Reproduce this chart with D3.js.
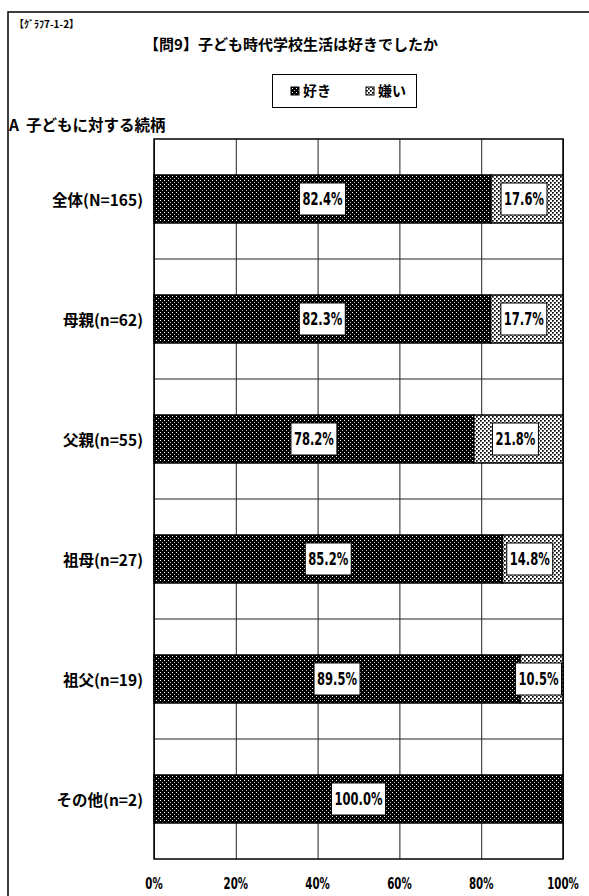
<!DOCTYPE html>
<html>
<head>
<meta charset="utf-8">
<script src="https://cdn.jsdelivr.net/npm/d3@7"></script>
<style>
  html, body { margin: 0; padding: 0; background: #fff; }
  svg { display: block; }
  .jp { font-family: "Noto Sans CJK JP", "Noto Sans", sans-serif; font-weight: 700; fill: #000; }
  .num { font-family: "DejaVu Sans", "Liberation Sans", sans-serif; font-weight: 700; fill: #000; }
</style>
</head>
<body>
<script>
// Question 9: did you like school life as a child? (by relationship to child)
const categories = ["全体(N=165)", "母親(n=62)", "父親(n=55)", "祖母(n=27)", "祖父(n=19)", "その他(n=2)"];
const seriesNames = ["好き", "嫌い"];
const likeValues = [82.4, 82.3, 78.2, 85.2, 89.5, 100.0];
const dislikeValues = [17.6, 17.7, 21.8, 14.8, 10.5, 0];
const tickValues = [0, 20, 40, 60, 80, 100];

const W = 589, H = 896;
const plot = { left: 154, right: 563, top: 139, bottom: 859 };
const narrow = 0.64; // horizontal squeeze for the condensed numeric lettering

const svg = d3.select("body").append("svg").attr("width", W).attr("height", H);

// fill patterns: dense dark dots for 好き, light dots for 嫌い
const defs = svg.append("defs");
const pDark = defs.append("pattern").attr("id", "patDark")
  .attr("patternUnits", "userSpaceOnUse").attr("width", 4).attr("height", 4);
pDark.append("rect").attr("width", 4).attr("height", 4).attr("fill", "#000");
pDark.append("rect").attr("x", 0).attr("y", 0).attr("width", 1).attr("height", 1).attr("fill", "#fff");
pDark.append("rect").attr("x", 2).attr("y", 2).attr("width", 1).attr("height", 1).attr("fill", "#bbb");

const pLight = defs.append("pattern").attr("id", "patLight")
  .attr("patternUnits", "userSpaceOnUse").attr("width", 4).attr("height", 4);
pLight.append("rect").attr("width", 4).attr("height", 4).attr("fill", "#fff");
pLight.append("rect").attr("x", 0).attr("y", 0).attr("width", 1.7).attr("height", 1.7).attr("fill", "#000");
pLight.append("rect").attr("x", 2).attr("y", 2).attr("width", 1.7).attr("height", 1.7).attr("fill", "#000");

const x = d3.scaleLinear().domain([0, 100]).range([plot.left, plot.right]);
const y = d3.scaleBand().domain(categories).range([plot.top, plot.bottom])
  .paddingInner(0.6).paddingOuter(0.3);

// outer frame
svg.append("path").attr("d", `M8,${H} V12 H${W}`)
  .attr("fill", "none").attr("stroke", "#000").attr("stroke-width", 1.5);

// header texts
svg.append("text").attr("class", "jp").attr("x", 14).attr("y", 28)
  .attr("font-size", 10).text("【ｸﾞﾗﾌ7-1-2】");
svg.append("text").attr("class", "jp").attr("x", 291).attr("y", 50)
  .attr("text-anchor", "middle").attr("font-size", 15)
  .text("【問9】子ども時代学校生活は好きでしたか");

// legend
const lg = svg.append("g");
lg.append("rect").attr("x", 272.5).attr("y", 74.5).attr("width", 144).attr("height", 33)
  .attr("fill", "#fff").attr("stroke", "#000").attr("stroke-width", 1);
const legendX = [291, 366];
seriesNames.forEach((s, i) => {
  lg.append("rect").attr("x", legendX[i]).attr("y", 87).attr("width", 8).attr("height", 8)
    .attr("fill", i === 0 ? "url(#patDark)" : "url(#patLight)")
    .attr("stroke", "#000").attr("stroke-width", 1);
  lg.append("text").attr("class", "jp").attr("x", legendX[i] + 12).attr("y", 96)
    .attr("font-size", 14).text(s);
});

svg.append("text").attr("class", "jp").attr("x", 9).attr("y", 131)
  .attr("font-size", 15.5).attr("xml:space", "preserve").text("A  子どもに対する続柄");

// plot background
svg.append("rect").attr("x", plot.left).attr("y", plot.top)
  .attr("width", plot.right - plot.left).attr("height", plot.bottom - plot.top)
  .attr("fill", "#fff");

// vertical gridlines
const grid = svg.append("g").attr("transform", `translate(0,${plot.bottom})`)
  .call(d3.axisBottom(x).tickValues(tickValues).tickSize(-(plot.bottom - plot.top)).tickFormat(""));
grid.select(".domain").remove();
grid.selectAll("line").attr("stroke", "#222").attr("stroke-width", 1);

// horizontal lines between categories
const gap = (y.step() - y.bandwidth()) / 2;
svg.append("g").selectAll("line").data(categories.slice(1)).join("line")
  .attr("x1", plot.left).attr("x2", plot.right)
  .attr("y1", d => y(d) - gap).attr("y2", d => y(d) - gap)
  .attr("stroke", "#222").attr("stroke-width", 1);

// plot border
svg.append("rect").attr("x", plot.left).attr("y", plot.top)
  .attr("width", plot.right - plot.left).attr("height", plot.bottom - plot.top)
  .attr("fill", "none").attr("stroke", "#000").attr("stroke-width", 1.5);

// stacked bars
const rows = categories.map((c, i) => ({ c, like: likeValues[i], dislike: dislikeValues[i] }));
const bars = svg.append("g");
rows.forEach(r => {
  bars.append("rect").attr("x", x(0)).attr("y", y(r.c))
    .attr("width", x(r.like) - x(0)).attr("height", y.bandwidth())
    .attr("fill", "url(#patDark)").attr("stroke", "#000").attr("stroke-width", 1.5);
  if (r.dislike > 0) {
    bars.append("rect").attr("x", x(r.like)).attr("y", y(r.c))
      .attr("width", x(r.like + r.dislike) - x(r.like)).attr("height", y.bandwidth())
      .attr("fill", "url(#patLight)").attr("stroke", "#000").attr("stroke-width", 1.5);
  }
});

// condensed numeric text centred at (cx, cy)
function narrowText(parent, cx, cy, str, size) {
  const g = parent.append("g").attr("transform", `translate(${cx},${cy}) scale(${narrow},1)`);
  const t = g.append("text").attr("class", "num").attr("x", 0).attr("y", 0)
    .attr("text-anchor", "middle").attr("dominant-baseline", "central")
    .attr("font-size", size).text(str);
  return t.node().getBBox().width * narrow;
}

// value labels in white boxes
function valueLabel(cx, cy, v) {
  const g = svg.append("g");
  const box = g.append("rect").attr("fill", "#fff").attr("stroke", "#000").attr("stroke-width", 1);
  const w = narrowText(g, cx, cy, v.toFixed(1) + "%", 18);
  const bw = w + 6, bh = 32;
  box.attr("x", cx - bw / 2).attr("y", cy - bh / 2).attr("width", bw).attr("height", bh);
}
rows.forEach(r => {
  const cy = y(r.c) + y.bandwidth() / 2;
  valueLabel((x(0) + x(r.like)) / 2, cy, r.like);
  if (r.dislike > 0) valueLabel((x(r.like) + x(r.like + r.dislike)) / 2 - 3, cy, r.dislike);
});

// category labels
svg.append("g").selectAll("text").data(categories).join("text")
  .attr("class", "jp").attr("x", 143).attr("y", d => y(d) + y.bandwidth() / 2)
  .attr("text-anchor", "end").attr("dominant-baseline", "central")
  .attr("font-size", 15.5).text(d => d);

// x tick labels
const tickG = svg.append("g");
tickValues.forEach(v => narrowText(tickG, x(v), 884, v + "%", 16));
</script>
</body>
</html>
